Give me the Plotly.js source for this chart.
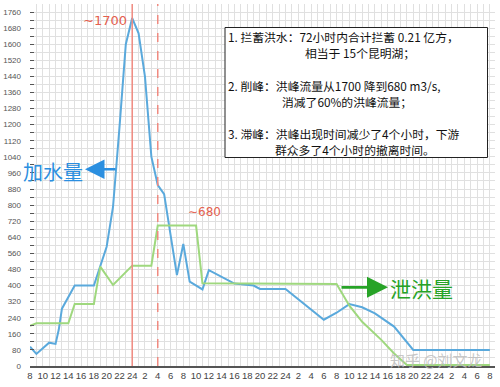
<!DOCTYPE html>
<html><head><meta charset="utf-8">
<script src="https://cdn.plot.ly/plotly-3.0.1.min.js"></script>
<style>html,body{margin:0;padding:0;background:#fff}#chart{width:500px;height:387px}</style>
</head><body><div id="chart"></div>
<script>
// hours since 08:00 of day 1
const inflowHours  = [0,1,3,4,4.5,5,7,10,12,13,14,15,16,17,18,19,20,21,23,24,25,27,28,30,32,35,36,40,46,48,50,52,54,57,60,72];
const inflowValues = [96,60,116,110,180,285,400,400,593,792,1183,1600,1730,1654,1439,1041,900,855,452,607,419,381,477,445,410,400,383,383,230,265,308,292,262,196,80,80];
const outflowHours  = [0,1,6,7,10,11,13,16,19,20,26,27,48,50,52,55,57,59,72];
const outflowValues = [200,212,212,308,308,494,403,499,499,698,698,411,408,300,220,130,62,5,5];
const tickHours  = [0,2,4,6,8,10,12,14,16,18,20,22,24,26,28,30,32,34,36,38,40,42,44,46,48,50,52,54,56,58,60,62,64,66,68,70,72];
const tickLabels = ['8','10','12','14','16','18','20','22','24','2','4','6','8','10','12','14','16','18','20','22','24','2','4','6','8','10','12','14','16','18','20','22','24','2','4','6','8'];
const peakInHour = 16, peakOutHour = 20;
const peakInLabel = '∼1700', peakOutLabel = '∼680';
const inLabel = '加水量', outLabel = '泄洪量';
const noteLines = ['1. 拦蓄洪水：72小时内合计拦蓄 0.21 亿方，','相当于 15个昆明湖；','2. 削峰：洪峰流量从1700 降到680 m3/s,','消减了60%的洪峰流量；','3. 滞峰：洪峰出现时间减少了4个小时，下游','群众多了4个小时的撤离时间。'];
const watermark = '知乎 @刘文龙';

const L=30, R=5, T=4, B=21, W=500, H=387;
const pw = W-L-R, ph = H-T-B;
const px = x => (x-L)/pw;
const py = y => (H-B-y)/ph;
const cjk = '"Noto Sans CJK SC", "Noto Sans", sans-serif';
const gridC = '#e0e0e0';

const traces = [
  {x: inflowHours, y: inflowValues, type:'scatter', mode:'lines', line:{color:'#5aa9dc', width:2}, hoverinfo:'skip'},
  {x: outflowHours, y: outflowValues, type:'scatter', mode:'lines', line:{color:'#9fd87e', width:2}, hoverinfo:'skip'}
];

const noteAnn = [
  {t:noteLines[0], x:227, y:36.5, a:'left'},
  {t:noteLines[1], x:360, y:52.5, a:'center'},
  {t:noteLines[2], x:227, y:85.5, a:'left'},
  {t:noteLines[3], x:281, y:101.5, a:'left'},
  {t:noteLines[4], x:227, y:133.5, a:'left'},
  {t:noteLines[5], x:274, y:149.5, a:'left'}
].map(o => ({text:o.t, xref:'paper', yref:'paper', x:px(o.x), y:py(o.y), xanchor:o.a, yanchor:'middle', showarrow:false, borderpad:0, font:{family:cjk, size:11.8, color:'#111'}}));

const layout = {
  width:W, height:H, margin:{l:L, r:R, t:T, b:B, pad:0},
  paper_bgcolor:'#fff', plot_bgcolor:'#fff', showlegend:false,
  xaxis:{range:[0,72.8], tickmode:'array', tickvals:tickHours, ticktext:tickLabels,
    showgrid:true, gridcolor:gridC, gridwidth:1, zeroline:false,
    showline:true, linecolor:'#555', linewidth:1.5, ticks:'',
    tickfont:{family:'Liberation Sans, Arial, sans-serif', size:9.5, color:'#444'},
    minor:{tickmode:'linear', tick0:0, dtick:1, showgrid:true, gridcolor:gridC, gridwidth:1}},
  yaxis:{range:[0,1800], tickmode:'linear', tick0:0, dtick:80,
    showgrid:true, gridcolor:gridC, gridwidth:1, zeroline:false, showline:false,
    ticks:'inside', ticklen:4, tickcolor:'#555', tickwidth:1, ticklabelstandoff:8,
    tickfont:{family:'Liberation Sans, Arial, sans-serif', size:8, color:'#555'},
    minor:{tickmode:'linear', tick0:0, dtick:40, showgrid:true, gridcolor:gridC, ticks:'inside', ticklen:4, tickcolor:'#555'}},
  shapes:[
    {type:'line', xref:'x', yref:'paper', x0:peakInHour, x1:peakInHour, y0:0, y1:1, line:{color:'#f08a80', width:1.5}},
    {type:'line', xref:'x', yref:'paper', x0:peakOutHour, x1:peakOutHour, y0:0, y1:1, line:{color:'#f08a80', width:1.5, dash:'dash'}},
    {type:'rect', xref:'paper', yref:'paper', x0:px(225), x1:px(487.5), y0:py(157.5), y1:py(27.5), fillcolor:'#fff', line:{color:'#222', width:1}, layer:'above'}
  ],
  annotations:[
    ...noteAnn,
    {text:peakInLabel, xref:'paper', yref:'paper', x:px(105), y:py(20), xanchor:'center', yanchor:'middle', showarrow:false, font:{family:'DejaVu Sans, sans-serif', size:13, color:'#e4604f'}},
    {text:peakOutLabel, xref:'paper', yref:'paper', x:px(204), y:py(212), xanchor:'center', yanchor:'middle', showarrow:false, font:{family:'DejaVu Sans, sans-serif', size:12, color:'#e4604f'}},
    {text:inLabel, xref:'paper', yref:'paper', x:px(53), y:py(171.5), xanchor:'center', yanchor:'middle', showarrow:false, font:{family:cjk, size:20, color:'#2b8fe0'}},
    {text:'', xref:'paper', yref:'paper', x:px(85), y:py(169.3), ax:32, ay:0, showarrow:true, arrowhead:2, arrowsize:1.5, arrowwidth:2.6, arrowcolor:'#2b8fe0', standoff:0, startstandoff:0},
    {text:outLabel, xref:'paper', yref:'paper', x:px(421), y:py(288), xanchor:'center', yanchor:'middle', showarrow:false, font:{family:cjk, size:21, color:'#27a327'}},
    {text:'', xref:'paper', yref:'paper', x:px(388), y:py(287.3), ax:-48, ay:0, showarrow:true, arrowhead:2, arrowsize:1.5, arrowwidth:2.8, arrowcolor:'#27a327', standoff:0, startstandoff:0},
    {text:watermark, xref:'paper', yref:'paper', x:px(436), y:py(359), xanchor:'center', yanchor:'middle', showarrow:false, font:{family:cjk, size:15, color:'rgba(190,190,190,0.85)'}}
  ]
};
Plotly.newPlot('chart', traces, layout, {staticPlot:true, displayModeBar:false});
</script></body></html>
